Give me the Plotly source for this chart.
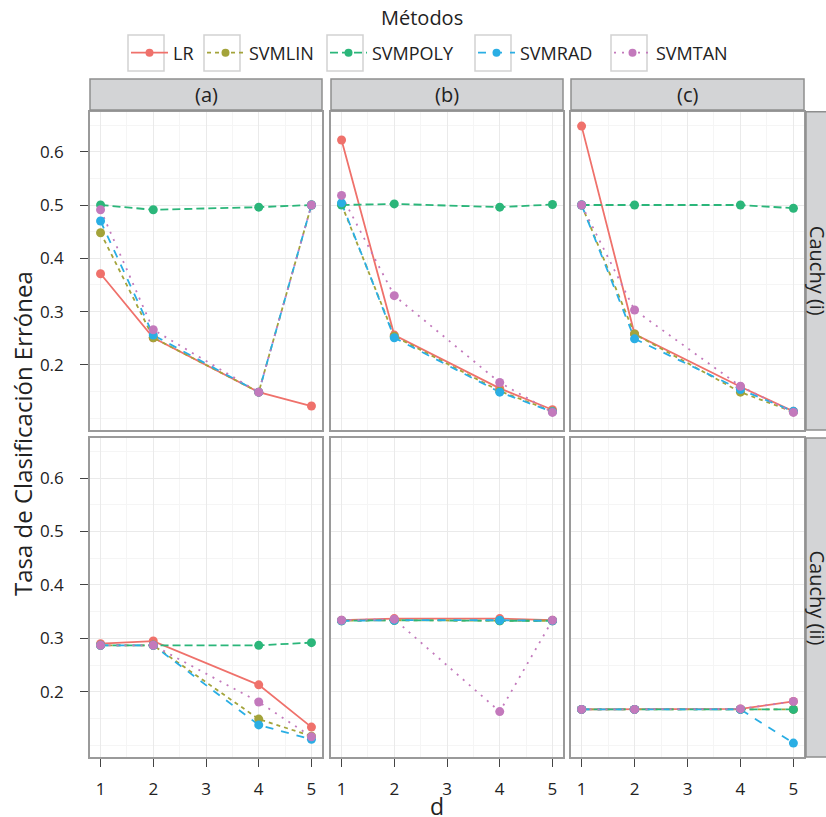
import plotly.graph_objects as go

# ---------------- data ----------------
methods = ["LR", "SVMLIN", "SVMPOLY", "SVMRAD", "SVMTAN"]
d_values = [1, 2, 4, 5]
col_labels = ["(a)", "(b)", "(c)"]
row_labels = ["Cauchy (i)", "Cauchy (ii)"]
x_ticks = [1, 2, 3, 4, 5]
y_ticks = [0.2, 0.3, 0.4, 0.5, 0.6]

# Cauchy (i)
i_a = {
    "LR":      [0.371, 0.251, 0.149, 0.123],
    "SVMLIN":  [0.448, 0.251, 0.149, 0.500],
    "SVMPOLY": [0.500, 0.491, 0.496, 0.500],
    "SVMRAD":  [0.470, 0.256, 0.149, 0.500],
    "SVMTAN":  [0.491, 0.266, 0.149, 0.500],
}
i_b = {
    "LR":      [0.622, 0.256, 0.156, 0.116],
    "SVMLIN":  [0.501, 0.254, 0.151, 0.113],
    "SVMPOLY": [0.500, 0.502, 0.496, 0.501],
    "SVMRAD":  [0.504, 0.251, 0.149, 0.112],
    "SVMTAN":  [0.518, 0.330, 0.167, 0.111],
}
i_c = {
    "LR":      [0.648, 0.258, 0.159, 0.113],
    "SVMLIN":  [0.500, 0.258, 0.149, 0.112],
    "SVMPOLY": [0.500, 0.500, 0.500, 0.494],
    "SVMRAD":  [0.500, 0.249, 0.154, 0.113],
    "SVMTAN":  [0.500, 0.303, 0.160, 0.111],
}
# Cauchy (ii)
ii_a = {
    "LR":      [0.290, 0.295, 0.213, 0.134],
    "SVMLIN":  [0.287, 0.287, 0.149, 0.117],
    "SVMPOLY": [0.287, 0.287, 0.287, 0.292],
    "SVMRAD":  [0.287, 0.287, 0.138, 0.111],
    "SVMTAN":  [0.287, 0.287, 0.181, 0.116],
}
ii_b = {
    "LR":      [0.334, 0.337, 0.337, 0.334],
    "SVMLIN":  [0.333, 0.334, 0.333, 0.333],
    "SVMPOLY": [0.333, 0.334, 0.333, 0.333],
    "SVMRAD":  [0.333, 0.334, 0.334, 0.333],
    "SVMTAN":  [0.334, 0.336, 0.163, 0.334],
}
ii_c = {
    "LR":      [0.167, 0.167, 0.168, 0.182],
    "SVMLIN":  [0.167, 0.167, 0.167, 0.167],
    "SVMPOLY": [0.167, 0.167, 0.167, 0.167],
    "SVMRAD":  [0.167, 0.167, 0.167, 0.104],
    "SVMTAN":  [0.167, 0.167, 0.168, 0.182],
}
panels = [[i_a, i_b, i_c], [ii_a, ii_b, ii_c]]

# ---------------- styles ----------------
colors = {"LR": "#EF716B", "SVMLIN": "#A3A33A", "SVMPOLY": "#2BB67A",
          "SVMRAD": "#2AAEE4", "SVMTAN": "#C379BC"}
dashes = {"LR": "solid", "SVMLIN": "4px,4px", "SVMPOLY": "8px,4px",
          "SVMRAD": "8px,8px", "SVMTAN": "2px,6px"}

W, H = 826, 817
FONT = "Open Sans"
TXT = "#222222"


def px(x):
    return x / W


def py(y):
    return 1 - y / H


cols_px = [(90, 322), (331, 563), (571, 804)]
rows_px = [(111.7, 430), (438, 757)]

fig = go.Figure()

# lines first
for r in range(2):
    for c in range(3):
        idx = r * 3 + c + 1
        xa = "x" if idx == 1 else f"x{idx}"
        ya = "y" if idx == 1 else f"y{idx}"
        for m in methods:
            fig.add_trace(go.Scatter(
                x=d_values, y=panels[r][c][m], mode="lines",
                line=dict(color=colors[m], width=1.8, dash=dashes[m]),
                xaxis=xa, yaxis=ya, showlegend=False, hoverinfo="skip"))
# then points
for r in range(2):
    for c in range(3):
        idx = r * 3 + c + 1
        xa = "x" if idx == 1 else f"x{idx}"
        ya = "y" if idx == 1 else f"y{idx}"
        for m in methods:
            fig.add_trace(go.Scatter(
                x=d_values, y=panels[r][c][m], mode="markers",
                marker=dict(color=colors[m], size=9),
                xaxis=xa, yaxis=ya, showlegend=False, name=m))

# legend entries (one legend per method, positioned like the reference)
legend_text_px = [173, 249, 372, 520, 656]
LEG_Y = 53
shapes = []
for k, m in enumerate(methods):
    lname = "legend" if k == 0 else f"legend{k + 1}"
    fig.add_trace(go.Scatter(
        x=[None], y=[None], mode="lines+markers", name=m,
        line=dict(color=colors[m], width=1.8, dash=dashes[m]),
        marker=dict(color=colors[m], size=8),
        legend=lname, showlegend=True, xaxis="x", yaxis="y"))
    X = legend_text_px[k] - 47
    fig.layout[lname] = dict(
        x=px(X), xanchor="left", y=py(LEG_Y), yanchor="middle",
        orientation="h", itemwidth=37, bgcolor="rgba(0,0,0,0)",
        borderwidth=0, font=dict(family=FONT, size=18, color=TXT))
    shapes.append(dict(type="rect", xref="paper", yref="paper",
                       x0=px(X + 2), x1=px(X + 38), y0=py(35), y1=py(71),
                       line=dict(color="#D2D2D2", width=1.5),
                       fillcolor="white", layer="below"))

# axes
grid_major = "#EAEAEA"
grid_minor = "#F5F5F5"
border = "#9A9A9A"
for r in range(2):
    for c in range(3):
        idx = r * 3 + c + 1
        xk = "xaxis" if idx == 1 else f"xaxis{idx}"
        yk = "yaxis" if idx == 1 else f"yaxis{idx}"
        ya = "y" if idx == 1 else f"y{idx}"
        xa = "x" if idx == 1 else f"x{idx}"
        x0, x1 = cols_px[c]
        y0, y1 = rows_px[r]
        bottom = (r == 1)
        left = (c == 0)
        fig.layout[xk] = dict(
            domain=[px(x0), px(x1)], anchor=ya, range=[0.8, 5.2],
            tickvals=x_ticks, ticktext=[str(v) for v in x_ticks],
            showticklabels=bottom, ticks="outside" if bottom else "",
            ticklen=8, tickwidth=1, tickcolor="#444444",
            ticklabelstandoff=8,
            tickfont=dict(family=FONT, size=17, color=TXT),
            showgrid=True, gridcolor=grid_major, gridwidth=1.2,
            minor=dict(tickvals=[1.5, 2.5, 3.5, 4.5], showgrid=True,
                       gridcolor=grid_minor, gridwidth=0.7, ticks=""),
            showline=True, linecolor=border, linewidth=1.6, mirror=True,
            zeroline=False, fixedrange=True)
        fig.layout[yk] = dict(
            domain=[py(y1), py(y0)], anchor=xa, range=[0.078, 0.675],
            tickvals=y_ticks, ticktext=[f"{v:.1f}" for v in y_ticks],
            showticklabels=left, ticks="outside" if left else "",
            ticklen=8, tickwidth=1, tickcolor="#444444",
            ticklabelstandoff=13,
            tickfont=dict(family=FONT, size=17, color=TXT),
            showgrid=True, gridcolor=grid_major, gridwidth=1.2,
            minor=dict(tickvals=[0.1, 0.15, 0.25, 0.35, 0.45, 0.55, 0.65],
                       showgrid=True, gridcolor=grid_minor, gridwidth=0.7,
                       ticks=""),
            showline=True, linecolor=border, linewidth=1.6, mirror=True,
            zeroline=False, fixedrange=True)

annotations = []
# top strips
strip_fill = "#D3D4D6"
strip_line = "#8E8E8E"
for c, lab in enumerate(col_labels):
    x0, x1 = cols_px[c]
    shapes.append(dict(type="rect", xref="paper", yref="paper",
                       x0=px(x0), x1=px(x1), y0=py(110), y1=py(79),
                       fillcolor=strip_fill, line=dict(color=strip_line, width=1.5)))
    annotations.append(dict(text=lab, xref="paper", yref="paper",
                            x=px((x0 + x1) / 2), y=py(95), showarrow=False,
                            xanchor="center", yanchor="middle",
                            font=dict(family=FONT, size=20, color=TXT)))
# right strips
for r, lab in enumerate(row_labels):
    y0, y1 = rows_px[r]
    shapes.append(dict(type="rect", xref="paper", yref="paper",
                       x0=px(806), x1=px(840), y0=py(y1), y1=py(y0),
                       fillcolor=strip_fill, line=dict(color=strip_line, width=1.5)))
    annotations.append(dict(text=lab, xref="paper", yref="paper",
                            x=px(817), y=py((y0 + y1) / 2), showarrow=False,
                            textangle=90, xanchor="center", yanchor="middle",
                            font=dict(family=FONT, size=20, color=TXT)))

# legend title, axis titles
annotations.append(dict(text="Métodos", xref="paper", yref="paper",
                        x=px(422), y=py(18), showarrow=False,
                        xanchor="center", yanchor="middle",
                        font=dict(family=FONT, size=20, color=TXT)))
annotations.append(dict(text="d", xref="paper", yref="paper",
                        x=px(437), y=py(806), showarrow=False,
                        xanchor="center", yanchor="middle",
                        font=dict(family=FONT, size=23, color=TXT)))
annotations.append(dict(text="Tasa de Clasificación Errónea", xref="paper",
                        yref="paper", x=px(22), y=py(434), showarrow=False,
                        textangle=-90, xanchor="center", yanchor="middle",
                        font=dict(family=FONT, size=24, color=TXT)))

fig.update_layout(
    width=W, height=H, margin=dict(l=0, r=0, t=0, b=0),
    paper_bgcolor="white", plot_bgcolor="white",
    shapes=shapes, annotations=annotations,
    font=dict(family=FONT, color=TXT),
)

fig.write_html("out.html")
